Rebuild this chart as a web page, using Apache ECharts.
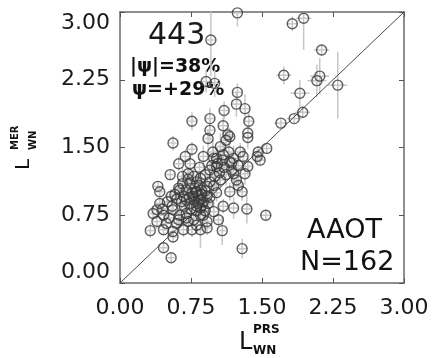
<!DOCTYPE html>
<html>
<head>
<meta charset="utf-8">
<script src="https://cdn.jsdelivr.net/npm/echarts@6/dist/echarts.min.js"></script>
<style>html,body{margin:0;padding:0;background:#fff;}#c{width:433px;height:358px;}</style>
</head>
<body>
<div id="c"></div>
<script>
// L_WN^PRS (x) vs L_WN^MER (y), with uncertainties
var xVals = [1.24,1.82,1.94,0.96,2.13,1.73,2.11,2.08,2.30,1.90,0.91,1.00,1.24,1.23,1.32,1.10,0.95,0.76,1.70,1.84,
  1.93,0.95,1.09,1.36,1.14,1.16,1.35,1.35,0.93,1.06,0.76,0.56,1.27,1.46,1.55,1.45,1.48,1.09,0.99,0.69,
  0.62,0.74,1.16,1.35,1.32,1.20,1.02,0.95,0.90,0.85,0.53,0.72,0.81,0.74,0.40,0.42,0.63,0.70,0.81,0.86,
  0.92,0.99,1.06,1.16,1.25,1.29,1.23,0.54,0.67,0.77,0.85,0.92,0.74,0.81,0.85,0.42,0.39,0.35,0.46,0.56,
  0.63,0.70,0.88,0.99,1.09,1.20,1.34,1.54,1.04,0.39,0.49,0.60,0.72,0.81,0.92,0.32,0.46,0.56,0.67,0.76,
  0.85,0.92,1.08,0.56,0.46,0.54,1.29,
  0.80,0.83,0.78,0.86,0.88,0.82,0.79,0.84,0.90,0.76,0.73,0.70,0.87,0.81,0.75,0.68,0.65,0.60,0.58,0.62,
  0.66,0.72,0.78,0.95,1.00,1.05,1.10,1.12,1.03,0.97,1.08,1.15,1.20,1.25,1.18,1.30,0.93,0.95,1.02,0.55,
  0.50,0.45,0.52,0.62,0.70,0.78,0.85,0.90,1.12,0.98,0.88,0.84,0.66,1.02,1.18];
var yVals = [2.99,2.87,2.93,2.69,2.58,2.30,2.29,2.24,2.19,2.10,2.23,2.21,2.11,1.98,1.93,1.91,1.82,1.79,1.77,1.82,
  1.89,1.69,1.74,1.79,1.64,1.62,1.66,1.61,1.60,1.51,1.48,1.55,1.45,1.45,1.49,1.40,1.36,1.42,1.38,1.40,
  1.32,1.32,1.34,1.29,1.21,1.21,1.29,1.25,1.20,1.16,1.20,1.21,1.12,1.10,1.07,1.01,1.03,1.03,1.01,1.03,
  1.07,1.08,1.14,1.01,1.08,1.01,1.14,0.96,0.96,0.96,0.92,0.96,0.88,0.85,0.83,0.88,0.81,0.77,0.75,0.81,
  0.75,0.77,0.75,0.79,0.85,0.83,0.82,0.75,0.70,0.68,0.66,0.66,0.68,0.64,0.68,0.58,0.59,0.57,0.59,0.59,
  0.59,0.61,0.58,0.51,0.39,0.28,0.38,
  1.00,0.97,0.93,0.98,0.90,0.88,1.05,1.08,1.02,1.00,0.95,0.92,0.86,0.80,0.82,0.85,0.90,0.93,0.98,1.05,
  1.10,1.15,1.18,1.12,1.18,1.22,1.28,1.20,1.32,1.30,1.36,1.45,1.38,1.30,1.25,1.40,0.88,0.95,1.00,0.85,
  0.90,0.82,0.72,0.70,0.72,0.70,0.75,0.80,1.58,1.45,1.40,1.28,1.18,1.38,1.33];
var xErr = [0.05,0.06,0.08,0.04,0.08,0.08,0.10,0.10,0.10,0.10,0.05,0.05,0.05,0.05,0.05,0.05,0.05,0.04,0.07,0.08,
  0.08,0.04,0.05,0.05,0.05,0.05,0.05,0.05,0.04,0.04,0.04,0.04,0.05,0.05,0.05,0.05,0.05,0.04,0.04,0.04,
  0.04,0.04,0.05,0.05,0.05,0.05,0.04,0.04,0.04,0.04,0.04,0.04,0.04,0.04,0.04,0.04,0.04,0.04,0.04,0.04,
  0.04,0.04,0.04,0.05,0.05,0.05,0.05,0.04,0.04,0.04,0.04,0.04,0.04,0.04,0.04,0.04,0.04,0.04,0.04,0.04,
  0.04,0.04,0.04,0.04,0.05,0.05,0.05,0.06,0.04,0.04,0.04,0.04,0.04,0.04,0.04,0.04,0.04,0.04,0.04,0.04,
  0.04,0.04,0.04,0.04,0.04,0.04,0.05,
  0.04,0.04,0.04,0.04,0.04,0.04,0.04,0.04,0.04,0.04,0.04,0.04,0.04,0.04,0.04,0.04,0.04,0.04,0.04,0.04,
  0.04,0.04,0.04,0.04,0.04,0.05,0.05,0.05,0.04,0.04,0.05,0.05,0.05,0.05,0.05,0.05,0.04,0.04,0.04,0.04,
  0.04,0.04,0.04,0.04,0.04,0.04,0.04,0.04,0.05,0.04,0.04,0.04,0.04,0.04,0.05];
var yErr = [0.15,0.08,0.35,0.40,0.06,0.10,0.20,0.18,0.37,0.15,0.12,0.15,0.10,0.14,0.16,0.10,0.12,0.10,0.05,0.05,
  0.06,0.12,0.10,0.10,0.08,0.10,0.08,0.12,0.10,0.15,0.08,0.08,0.10,0.07,0.06,0.08,0.06,0.14,0.12,0.08,
  0.08,0.10,0.10,0.10,0.12,0.10,0.10,0.08,0.10,0.08,0.06,0.08,0.10,0.08,0.06,0.06,0.08,0.10,0.08,0.10,
  0.12,0.08,0.10,0.10,0.12,0.10,0.08,0.08,0.08,0.10,0.08,0.08,0.10,0.10,0.12,0.06,0.08,0.08,0.08,0.06,
  0.08,0.08,0.10,0.10,0.08,0.12,0.16,0.06,0.06,0.08,0.08,0.06,0.08,0.10,0.08,0.08,0.06,0.06,0.08,0.08,
  0.20,0.08,0.16,0.06,0.06,0.05,0.11,
  0.10,0.08,0.10,0.12,0.08,0.10,0.10,0.12,0.08,0.10,0.08,0.08,0.12,0.10,0.08,0.08,0.10,0.08,0.08,0.10,
  0.10,0.12,0.10,0.12,0.10,0.12,0.10,0.12,0.10,0.12,0.10,0.12,0.14,0.10,0.12,0.10,0.08,0.10,0.10,0.08,
  0.08,0.06,0.06,0.08,0.08,0.08,0.10,0.10,0.12,0.14,0.12,0.10,0.10,0.12,0.10];
var tickLabels = ['0.00','0.75','1.50','2.25','3.00'];
var identityLine = [[0,0],[3,3]];

var pts = xVals.map(function(x,i){ return [x, yVals[i], xErr[i], yErr[i]]; });

var chart = echarts.init(document.getElementById('c'), null, {renderer:'canvas'});
var labelFmt = function(v){ var i = Math.round(v/0.75); return tickLabels[i]; };
var axisLineStyle = {show:true, onZero:false, lineStyle:{color:'#6a6a6a', width:1.5}};
var tickStyle = {show:true, inside:true, length:5, lineStyle:{color:'#555', width:1}};
var lblStyle = {fontFamily:'DejaVu Sans', fontSize:22, color:'#1a1a1a', formatter: labelFmt};

chart.setOption({
  animation:false,
  backgroundColor:'#fff',
  grid:{left:120, right:29, top:12, bottom:75},
  xAxis:[
    {type:'value', min:0, max:3, interval:0.75, position:'bottom', axisLine:axisLineStyle, axisTick:tickStyle,
     splitLine:{show:false}, axisLabel:Object.assign({margin:14}, lblStyle)},
    {type:'value', min:0, max:3, interval:0.75, position:'top', axisLine:axisLineStyle, axisTick:tickStyle,
     splitLine:{show:false}, axisLabel:{show:false}}
  ],
  yAxis:[
    {type:'value', min:0, max:3, interval:0.75, position:'left', axisLine:axisLineStyle, axisTick:tickStyle,
     splitLine:{show:false}, axisLabel:Object.assign({margin:10, verticalAlignMaxLabel:'top', verticalAlignMinLabel:'bottom'}, lblStyle)},
    {type:'value', min:0, max:3, interval:0.75, position:'right', axisLine:axisLineStyle, axisTick:tickStyle,
     splitLine:{show:false}, axisLabel:{show:false}}
  ],
  series:[
    {type:'custom', clip:true, data:pts, encode:{x:0,y:1}, z:1,
     renderItem:function(params, api){
       var x=api.value(0), y=api.value(1), xe=api.value(2), ye=api.value(3);
       var p0=api.coord([x-xe,y]), p1=api.coord([x+xe,y]);
       var q0=api.coord([x,y-ye]), q1=api.coord([x,y+ye]);
       var st={stroke:'#c6c6c6', lineWidth:1.5};
       return {type:'group', children:[
         {type:'line', shape:{x1:p0[0],y1:p0[1],x2:p1[0],y2:p1[1]}, style:st},
         {type:'line', shape:{x1:q0[0],y1:q0[1],x2:q1[0],y2:q1[1]}, style:st}
       ]};
     }},
    {type:'line', data:identityLine, showSymbol:false, symbol:'none', z:2,
     lineStyle:{color:'#4a4a4a', width:1}},
    {type:'scatter', data:pts, encode:{x:0,y:1}, symbol:'circle', symbolSize:10, z:3,
     itemStyle:{color:'rgba(0,0,0,0)', borderColor:'#383838', borderWidth:1.4}}
  ],
  graphic:[
    {type:'text', left:148, top:21, style:{text:'443', font:'30px "DejaVu Sans"', fill:'#1a1a1a'}},
    {type:'text', left:130, top:58, style:{text:'|ψ|=38%', font:'bold 19px "DejaVu Sans"', fill:'#111'}},
    {type:'text', left:132, top:81, style:{text:'ψ=+29%', font:'bold 19px "DejaVu Sans"', fill:'#111'}},
    {type:'text', left:307, top:217, style:{text:'AAOT', font:'27px "DejaVu Sans"', fill:'#111'}},
    {type:'text', left:300, top:249, style:{text:'N=162', font:'27px "DejaVu Sans"', fill:'#111'}},
    // x axis name
    {type:'group', left:239, top:324, children:[
      {type:'text', x:0, y:7, style:{text:'L', font:'24px "DejaVu Sans"', fill:'#111'}},
      {type:'text', x:14, y:0, style:{text:'PRS', font:'bold 12px "DejaVu Sans"', fill:'#111'}},
      {type:'text', x:14, y:21, style:{text:'WN', font:'bold 12px "DejaVu Sans"', fill:'#111'}}
    ]},
    // y axis name (rotated)
    {type:'group', x:14, y:170, rotation:Math.PI/2, children:[
      {type:'text', x:0, y:0, style:{text:'L', font:'20px "DejaVu Sans"', fill:'#111'}},
      {type:'text', x:20, y:-4, style:{text:'MER', font:'bold 10px "DejaVu Sans"', fill:'#111'}},
      {type:'text', x:20, y:14, style:{text:'WN', font:'bold 10px "DejaVu Sans"', fill:'#111'}}
    ]}
  ]
});
</script>
</body>
</html>
